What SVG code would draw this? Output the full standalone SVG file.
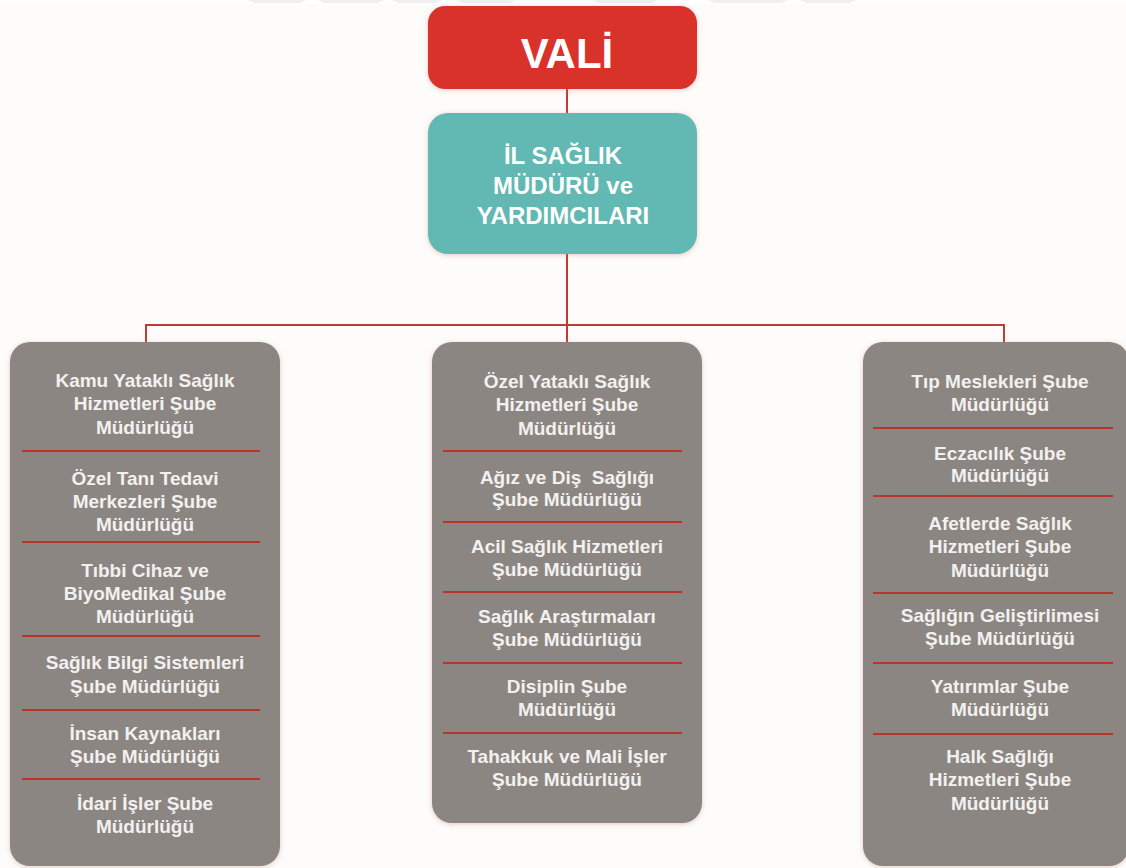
<svg xmlns="http://www.w3.org/2000/svg" width="1126" height="868" viewBox="0 0 1126 868">
  <defs>
    <filter id="shadow" x="-10%" y="-10%" width="120%" height="120%">
      <feDropShadow dx="0" dy="1" stdDeviation="2.5" flood-color="#c98a7a" flood-opacity="0.45"/>
    </filter>
    <style>
      .bg { fill: #fdfcfa; }
      .strip { fill: #ffffff; }
      .mark { fill: #efefef; }
      .vali { fill: #d9322a; }
      .mudur { fill: #62b8b2; }
      .unit { fill: #8b8682; }
      .link { stroke: #c23b30; stroke-width: 2; fill: none; }
      .sep { stroke: #b8352c; stroke-width: 2; }
      .t { font-family: "Liberation Sans", Arial, sans-serif; font-weight: bold; fill: #f3f1ef; text-anchor: middle; }
      .t19 { font-size: 19px; }
      .t24 { font-size: 24px; fill: #ffffff; }
      .t42 { font-size: 42px; fill: #ffffff; }
    </style>
  </defs>

  <!-- page -->
  <rect class="bg" x="0" y="0" width="1126" height="868"/>
  <rect class="strip" x="0" y="0" width="1126" height="4"/>
  <g id="header-marks">
    <polygon class="mark" points="248,0 306,0 300,3 254,3"/>
    <polygon class="mark" points="318,0 384,0 378,3 324,3"/>
    <polygon class="mark" points="392,0 442,0 436,3 398,3"/>
    <polygon class="mark" points="456,0 516,0 510,3 462,3"/>
    <polygon class="mark" points="592,0 658,0 652,3 598,3"/>
    <polygon class="mark" points="708,0 788,0 782,3 714,3"/>
    <polygon class="mark" points="800,0 856,0 850,3 806,3"/>
  </g>

  <!-- connectors -->
  <g id="connectors">
    <line class="link" x1="567" y1="89" x2="567" y2="113"/>
    <line class="link" x1="567" y1="254" x2="567" y2="342"/>
    <polyline class="link" points="146,342 146,325 1004,325 1004,342"/>
  </g>

  <!-- top nodes -->
  <g id="vali">
    <rect class="vali" x="428" y="6" width="269" height="83" rx="17" filter="url(#shadow)"/>
    <text class="t t42" x="567" y="68">VALİ</text>
  </g>

  <g id="il-saglik-muduru">
    <rect class="mudur" x="428" y="113" width="269" height="141" rx="20" filter="url(#shadow)"/>
    <text class="t t24" x="563" y="164">İL SAĞLIK</text>
    <text class="t t24" x="563" y="194">MÜDÜRÜ ve</text>
    <text class="t t24" x="563" y="224">YARDIMCILARI</text>
  </g>

  <!-- left column -->
  <g id="sol-birimler">
    <rect class="unit" x="10" y="342" width="270" height="524" rx="20" filter="url(#shadow)"/>
    <line class="sep" x1="22" y1="451" x2="260" y2="451"/>
    <line class="sep" x1="22" y1="542" x2="260" y2="542"/>
    <line class="sep" x1="22" y1="636" x2="260" y2="636"/>
    <line class="sep" x1="22" y1="710" x2="260" y2="710"/>
    <line class="sep" x1="22" y1="779" x2="260" y2="779"/>
    <text class="t t19" x="145" y="387">Kamu Yataklı Sağlık</text>
    <text class="t t19" x="145" y="410">Hizmetleri Şube</text>
    <text class="t t19" x="145" y="434">Müdürlüğü</text>
    <text class="t t19" x="145" y="485">Özel Tanı Tedavi</text>
    <text class="t t19" x="145" y="508">Merkezleri Şube</text>
    <text class="t t19" x="145" y="531">Müdürlüğü</text>
    <text class="t t19" x="145" y="577">Tıbbi Cihaz ve</text>
    <text class="t t19" x="145" y="600">BiyoMedikal Şube</text>
    <text class="t t19" x="145" y="623">Müdürlüğü</text>
    <text class="t t19" x="145" y="669">Sağlık Bilgi Sistemleri</text>
    <text class="t t19" x="145" y="693">Şube Müdürlüğü</text>
    <text class="t t19" x="145" y="740">İnsan Kaynakları</text>
    <text class="t t19" x="145" y="763">Şube Müdürlüğü</text>
    <text class="t t19" x="145" y="810">İdari İşler Şube</text>
    <text class="t t19" x="145" y="833">Müdürlüğü</text>
  </g>

  <!-- middle column -->
  <g id="orta-birimler">
    <rect class="unit" x="432" y="342" width="270" height="481" rx="20" filter="url(#shadow)"/>
    <line class="sep" x1="443" y1="451" x2="682" y2="451"/>
    <line class="sep" x1="443" y1="522" x2="682" y2="522"/>
    <line class="sep" x1="443" y1="592" x2="682" y2="592"/>
    <line class="sep" x1="443" y1="663" x2="682" y2="663"/>
    <line class="sep" x1="443" y1="733" x2="682" y2="733"/>
    <text class="t t19" x="567" y="388">Özel Yataklı Sağlık</text>
    <text class="t t19" x="567" y="411">Hizmetleri Şube</text>
    <text class="t t19" x="567" y="435">Müdürlüğü</text>
    <text class="t t19" x="567" y="484" xml:space="preserve">Ağız ve Diş  Sağlığı</text>
    <text class="t t19" x="567" y="506">Şube Müdürlüğü</text>
    <text class="t t19" x="567" y="553">Acil Sağlık Hizmetleri</text>
    <text class="t t19" x="567" y="576">Şube Müdürlüğü</text>
    <text class="t t19" x="567" y="623">Sağlık Araştırmaları</text>
    <text class="t t19" x="567" y="646">Şube Müdürlüğü</text>
    <text class="t t19" x="567" y="693">Disiplin Şube</text>
    <text class="t t19" x="567" y="716">Müdürlüğü</text>
    <text class="t t19" x="567" y="763">Tahakkuk ve Mali İşler</text>
    <text class="t t19" x="567" y="786">Şube Müdürlüğü</text>
  </g>

  <!-- right column -->
  <g id="sag-birimler">
    <rect class="unit" x="863" y="342" width="266" height="524" rx="20" filter="url(#shadow)"/>
    <line class="sep" x1="873" y1="428" x2="1113" y2="428"/>
    <line class="sep" x1="873" y1="496" x2="1113" y2="496"/>
    <line class="sep" x1="873" y1="593" x2="1113" y2="593"/>
    <line class="sep" x1="873" y1="663" x2="1113" y2="663"/>
    <line class="sep" x1="873" y1="734" x2="1113" y2="734"/>
    <text class="t t19" x="1000" y="388">Tıp Meslekleri Şube</text>
    <text class="t t19" x="1000" y="411">Müdürlüğü</text>
    <text class="t t19" x="1000" y="460">Eczacılık Şube</text>
    <text class="t t19" x="1000" y="482">Müdürlüğü</text>
    <text class="t t19" x="1000" y="530">Afetlerde Sağlık</text>
    <text class="t t19" x="1000" y="553">Hizmetleri Şube</text>
    <text class="t t19" x="1000" y="577">Müdürlüğü</text>
    <text class="t t19" x="1000" y="622">Sağlığın Geliştirlimesi</text>
    <text class="t t19" x="1000" y="645">Şube Müdürlüğü</text>
    <text class="t t19" x="1000" y="693">Yatırımlar Şube</text>
    <text class="t t19" x="1000" y="716">Müdürlüğü</text>
    <text class="t t19" x="1000" y="763">Halk Sağlığı</text>
    <text class="t t19" x="1000" y="786">Hizmetleri Şube</text>
    <text class="t t19" x="1000" y="810">Müdürlüğü</text>
  </g>
</svg>
